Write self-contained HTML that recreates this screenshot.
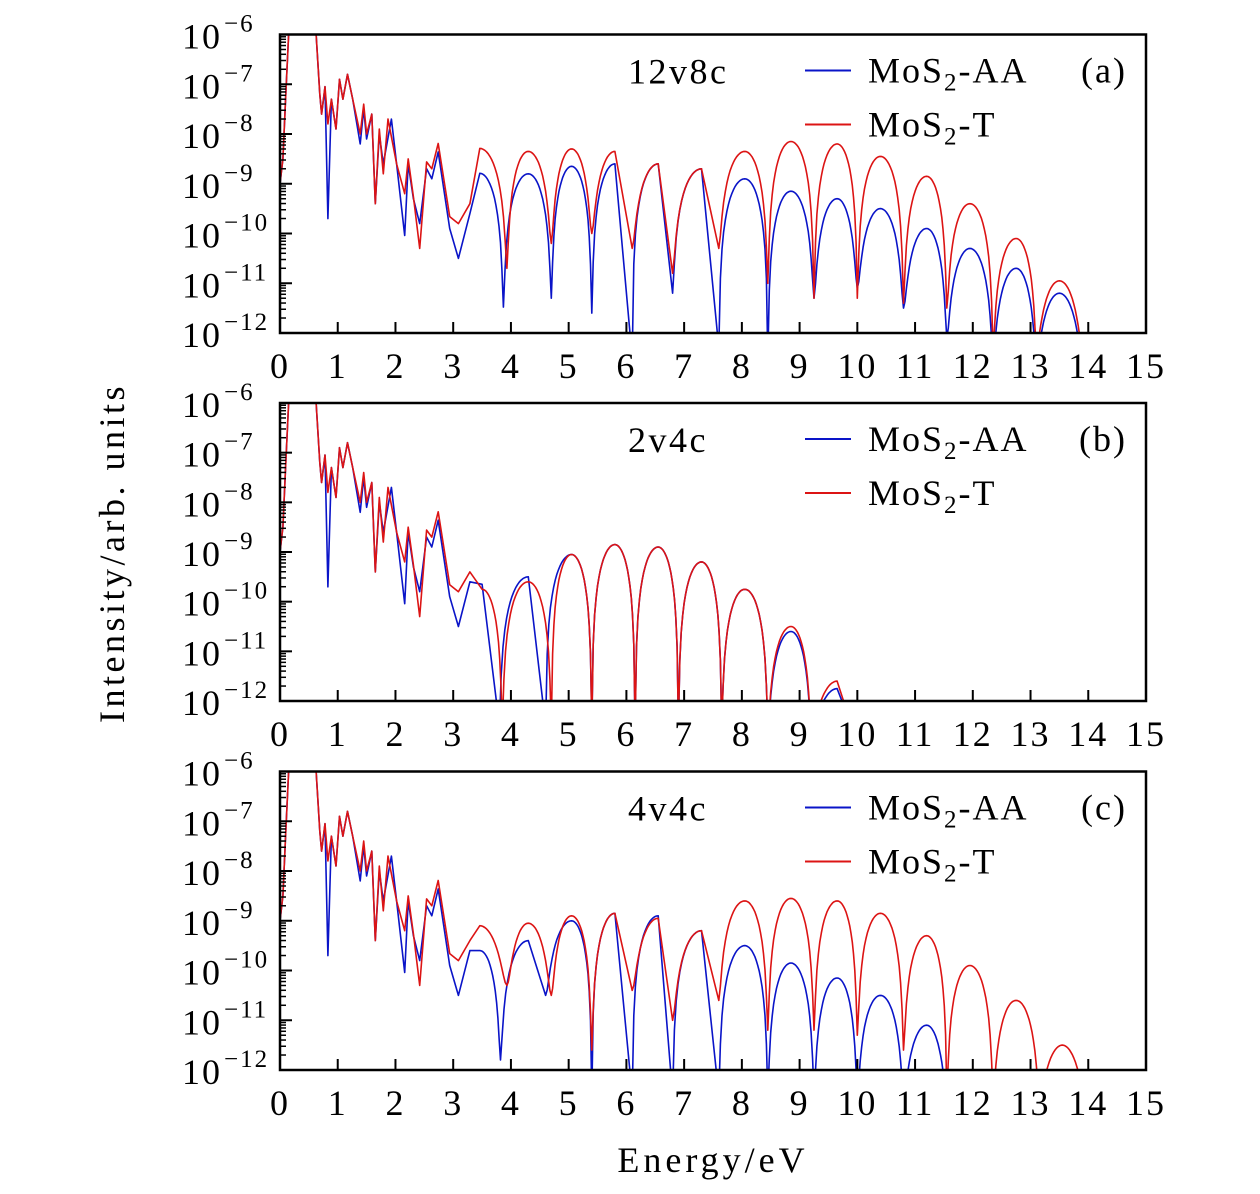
<!DOCTYPE html>
<html><head><meta charset="utf-8"><style>
html,body{margin:0;padding:0;background:#fff}
svg text{font-family:"Liberation Serif","DejaVu Serif",serif;fill:#000}
</style></head><body>
<svg id="fig" width="1260" height="1189" xmlns="http://www.w3.org/2000/svg"></svg>
<script>
// ---- data (energy eV, log10 intensity) ----
const xTicks=[0,1,2,3,4,5,6,7,8,9,10,11,12,13,14,15];
const yTicks=[-6,-7,-8,-9,-10,-11,-12];
const panelLabels=["(a)","(b)","(c)"];
const panelTitles=["12v8c","2v4c","4v4c"];
const seriesNames=["MoS2-AA","MoS2-T"];
const earlyRed=[[0,-9],[0.05,-8.5],[0.1,-7.2],[0.17,-5.5],[0.6,-5.5],[0.69,-7.2],[0.72,-7.6],[0.78,-7.05],[0.83,-7.8],[0.89,-7.3],[0.97,-7.9],[1.03,-6.9],[1.09,-7.3],[1.17,-6.8],[1.26,-7.3],[1.39,-8.0],[1.45,-7.4],[1.5,-8.0],[1.59,-7.6],[1.65,-9.4],[1.72,-7.9],[1.79,-8.8],[1.87,-7.7],[2.02,-8.6],[2.16,-9.2],[2.22,-8.5],[2.31,-9.26],[2.42,-10.3],[2.54,-8.56],[2.63,-8.7],[2.74,-8.19],[2.94,-9.66],[3.09,-9.8],[3.29,-9.4]];
const earlyBlue=[[0,-9],[0.05,-8.5],[0.1,-7.2],[0.17,-5.5],[0.6,-5.5],[0.69,-7.2],[0.72,-7.6],[0.78,-7.05],[0.83,-9.7],[0.89,-7.3],[0.97,-7.9],[1.03,-6.9],[1.09,-7.3],[1.17,-6.8],[1.26,-7.3],[1.39,-8.2],[1.45,-7.5],[1.5,-8.1],[1.59,-7.6],[1.65,-9.4],[1.72,-8.0],[1.79,-8.6],[1.93,-7.7],[2.02,-8.6],[2.16,-10.04],[2.22,-8.6],[2.31,-9.3],[2.42,-9.8],[2.54,-8.7],[2.63,-8.9],[2.74,-8.36],[2.94,-9.9],[3.09,-10.5],[3.29,-9.6]];
// panel a
const aRedPeaks=[[3.46,-8.29],[4.3,-8.35],[5.05,-8.3],[5.8,-8.35],[6.55,-8.6],[7.3,-8.7],[8.05,-8.35],[8.85,-8.15],[9.65,-8.2],[10.4,-8.45],[11.2,-8.85],[11.95,-9.4],[12.75,-10.1],[13.5,-10.95]];
const aRedTroughs=[[3.93,-10.7],[4.7,-10.2],[5.4,-10.0],[6.1,-10.3],[6.8,-10.8],[7.6,-10.3],[8.45,-11.0],[9.25,-11.3],[10.0,-11.3],[10.8,-11.4],[11.55,-11.5],[12.35,-12.3],[13.1,-12.3],[13.9,-12.3]];
const aBluePeaks=[[3.46,-8.79],[4.3,-8.8],[5.05,-8.65],[5.8,-8.6],[6.55,-8.6],[7.3,-8.7],[8.05,-8.9],[8.85,-9.15],[9.65,-9.3],[10.4,-9.5],[11.2,-9.9],[11.95,-10.3],[12.75,-10.7],[13.5,-11.2]];
const aBlueTroughs=[[3.87,-11.48],[4.7,-11.3],[5.4,-11.6],[6.1,-12.5],[6.8,-11.2],[7.6,-12.3],[8.45,-12.5],[9.25,-11.3],[10.0,-11.1],[10.8,-11.5],[11.55,-12.1],[12.35,-12.5],[13.1,-12.5],[13.9,-12.5]];
// panel b
const bRedPeaks=[[3.5,-9.75],[4.3,-9.6],[5.05,-9.05],[5.8,-8.85],[6.55,-8.9],[7.3,-9.2],[8.05,-9.75],[8.85,-10.5],[9.65,-11.6]];
const bRedTroughs=[[3.85,-12.5],[4.7,-12.5],[5.4,-12.5],[6.15,-12.5],[6.9,-12.5],[7.65,-12.5],[8.45,-12.5],[9.2,-12.5],[9.9,-12.5]];
const bBluePeaks=[[3.5,-9.65],[4.3,-9.5],[5.05,-9.05],[5.8,-8.85],[6.55,-8.9],[7.3,-9.2],[8.05,-9.75],[8.85,-10.6],[9.65,-11.75]];
const bBlueTroughs=[[3.8,-12.5],[4.6,-12.5],[5.4,-12.5],[6.15,-12.5],[6.9,-12.5],[7.65,-12.5],[8.45,-12.5],[9.2,-12.5],[9.9,-12.5]];
// panel c
const cRedPeaks=[[3.46,-9.1],[4.3,-9.05],[5.05,-8.9],[5.8,-8.85],[6.55,-8.95],[7.3,-9.2],[8.05,-8.6],[8.85,-8.55],[9.65,-8.6],[10.4,-8.85],[11.2,-9.3],[11.95,-9.9],[12.75,-10.6],[13.55,-11.5]];
const cRedTroughs=[[3.93,-10.3],[4.7,-10.5],[5.4,-11.6],[6.1,-10.4],[6.8,-11.0],[7.6,-10.6],[8.45,-11.2],[9.25,-11.2],[10.0,-11.3],[10.8,-11.6],[11.55,-12.5],[12.35,-12.5],[13.15,-12.5],[13.95,-12.5]];
const cBluePeaks=[[3.46,-9.6],[4.3,-9.4],[5.05,-9.0],[5.8,-8.85],[6.55,-8.9],[7.3,-9.2],[8.05,-9.5],[8.85,-9.85],[9.65,-10.15],[10.4,-10.5],[11.2,-11.1],[11.95,-12.0]];
const cBlueTroughs=[[3.82,-11.8],[4.6,-10.5],[5.4,-12.5],[6.1,-12.5],[6.8,-12.5],[7.6,-12.5],[8.45,-12.5],[9.25,-12.5],[10.0,-12.5],[10.8,-12.5],[11.55,-12.5],[12.3,-12.5]];

const NS="http://www.w3.org/2000/svg";
const svg=document.getElementById('fig');
function mk(tag,attrs,parent){const e=document.createElementNS(NS,tag);for(const k in attrs)e.setAttribute(k,attrs[k]);(parent||svg).appendChild(e);return e;}
const X0=280,X1=1146;
const panels=[{top:34.5,bot:333},{top:403,bot:701},{top:771.5,bot:1070}];
const sx=e=>X0+(X1-X0)*e/15;
function merge(early,peaks,troughs){
  const osc=peaks.concat(troughs).sort((a,b)=>a[0]-b[0]);
  return early.concat(osc);
}
const seriesData=[
  [merge(earlyBlue,aBluePeaks,aBlueTroughs),merge(earlyRed,aRedPeaks,aRedTroughs)],
  [merge(earlyBlue,bBluePeaks,bBlueTroughs),merge(earlyRed,bRedPeaks,bRedTroughs)],
  [merge(earlyBlue,cBluePeaks,cBlueTroughs),merge(earlyRed,cRedPeaks,cRedTroughs)]
];
const colors=["#0a14c8","#dc1414"];

panels.forEach((p,i)=>{
  const sy=l=>p.top+(p.bot-p.top)*(-6-l)/6;
  const g=mk('g',{});
  
  
  const cp=mk('clipPath',{id:'cp'+i},g);
  mk('rect',{x:X0,y:p.top,width:X1-X0,height:p.bot-p.top},cp);
  seriesData[i].forEach((pts,s)=>{
    let d='';
    for(let k=0;k<pts.length;k++){
      if(k===0){d+='M'+sx(pts[0][0]).toFixed(1)+','+sy(pts[0][1]).toFixed(1);continue;}
      const [e0,l0]=pts[k-1],[e1,l1]=pts[k];
      const n=(e1-e0)>0.3?16:1;
      const v0=Math.pow(10,l0),v1=Math.pow(10,l1);
      for(let j=1;j<=n;j++){
        const t=j/n,c=Math.pow(Math.cos(Math.PI*t/2),2);
        const l=n===1?l1:Math.log10(v0*c+v1*(1-c));
        d+='L'+sx(e0+(e1-e0)*t).toFixed(1)+','+sy(l).toFixed(1);
      }
    }
    const path=mk('path',{d:d,fill:'none',stroke:colors[s],'stroke-width':1.6,'clip-path':'url(#cp'+i+')','stroke-linejoin':'round'},g);
    
    
  });
  const fr=mk('rect',{x:X0,y:p.top,width:X1-X0,height:p.bot-p.top,fill:'none',stroke:'#000','stroke-width':2.5},g);
  
  
  xTicks.forEach(t=>{
    const x=sx(t);
    mk('line',{x1:x,x2:x,y1:p.bot,y2:p.bot-11,stroke:'#000','stroke-width':2},g);
    const tx=mk('text',{x:x,y:p.bot+45,'font-size':36,'letter-spacing':2,'text-anchor':'middle'},g);
    tx.textContent=t;
    
    
  });
  yTicks.forEach(t=>{
    const y=sy(t);
    mk('line',{x1:X0,x2:X0+12,y1:y,y2:y,stroke:'#000','stroke-width':2},g);
    if(t>-12)for(let m=2;m<=9;m++){const ym=sy(t-1+Math.log10(m));mk('line',{x1:X0,x2:X0+6,y1:ym,y2:ym,stroke:'#000','stroke-width':1.5},g);}
    const tx=mk('text',{x:222,y:y+14,'font-size':36,'letter-spacing':2,'text-anchor':'end'},g);
    tx.textContent='10';
    
    
    const sp=mk('text',{x:224,y:y-3,'font-size':25,'letter-spacing':2},g);
    sp.textContent='\u2212'+(-t);
  });
  const ti=mk('text',{x:628,y:p.top+49,'font-size':36,'letter-spacing':2.5},g);
  ti.textContent=panelTitles[i];
  
  
  [0,1].forEach(s=>{
    const y=p.top+36+s*54;
    const ln=mk('line',{x1:805,x2:851,y1:y,y2:y,stroke:colors[s],'stroke-width':2},g);
    
    
    const t=mk('text',{x:868,y:y+12,'font-size':36,'letter-spacing':2},g);
    
    
    t.innerHTML='MoS<tspan font-size="25" dy="8">2</tspan><tspan dy="-8">'+(s?'-T':'-AA')+'</tspan>';
  });
  const pl=mk('text',{x:1127,y:p.top+48,'font-size':36,'letter-spacing':2,'text-anchor':'end'},g);
  pl.textContent=panelLabels[i];
  
  
});
const yt=mk('text',{x:0,y:0,'font-size':36,'letter-spacing':3.5,'text-anchor':'middle',transform:'translate(124,553) rotate(-90)'});
yt.textContent='Intensity/arb. units';


const xt=mk('text',{x:713,y:1172,'font-size':36,'letter-spacing':4,'text-anchor':'middle'});
xt.textContent='Energy/eV';


</script>
</body></html>
